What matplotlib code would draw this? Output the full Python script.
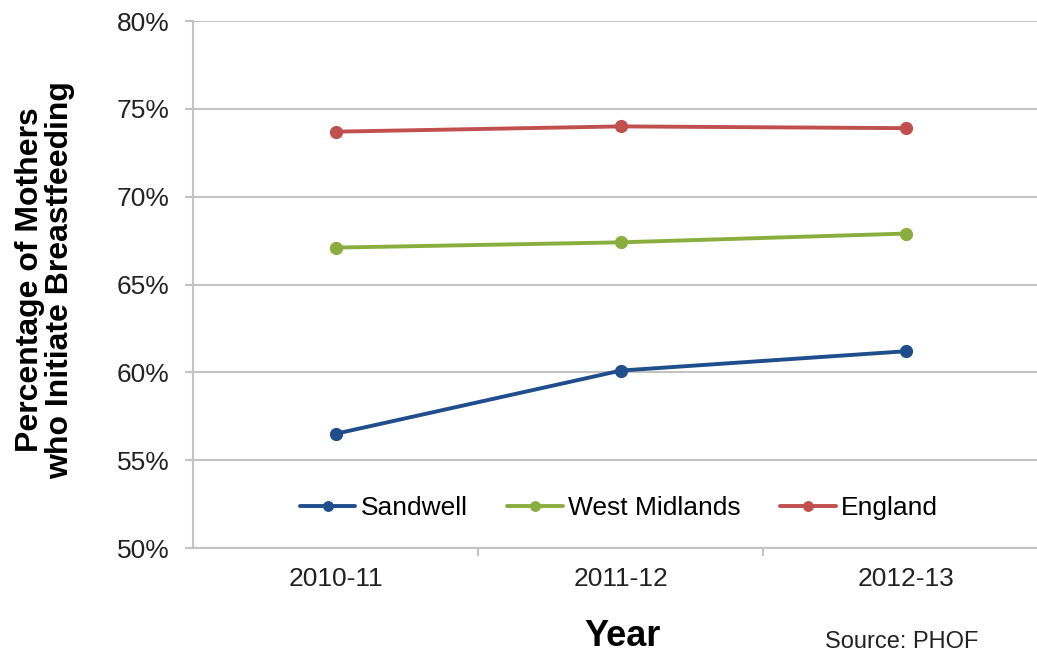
import matplotlib
matplotlib.use("Agg")
import matplotlib.pyplot as plt
from matplotlib.ticker import FuncFormatter, FixedLocator

years = ["2010-11", "2011-12", "2012-13"]
sandwell = [56.5, 60.1, 61.2]
west_midlands = [67.1, 67.4, 67.9]
england = [73.7, 74.0, 73.9]
y_ticks = [50, 55, 60, 65, 70, 75, 80]

plt.rcParams["font.family"] = ["Liberation Sans", "DejaVu Sans"]

W, H = 1037, 657
fig = plt.figure(figsize=(W / 100, H / 100), dpi=100)
ax = fig.add_axes([193 / W, 1 - 548 / H, (1037 - 193) / W, (548 - 21) / H])

x = list(range(len(years)))
series = [
    ("Sandwell", sandwell, "#1F4E8C"),
    ("West Midlands", west_midlands, "#8AAE3E"),
    ("England", england, "#C0504D"),
]
for name, vals, col in series:
    ax.plot(x, vals, color=col, lw=2.8, marker="o", ms=8.5, label=name,
            solid_capstyle="round")

ax.set_ylim(50, 80)
ax.set_xlim(-0.5, 2.46)
ax.yaxis.set_major_locator(FixedLocator(y_ticks))
ax.yaxis.set_major_formatter(FuncFormatter(lambda v, p: f"{v:.0f}%"))
ax.set_xticks(x)
ax.set_xticklabels(years)
ax.grid(axis="y", color="#C3C3C3", lw=1.5)
ax.set_axisbelow(True)

for s in ["top", "right"]:
    ax.spines[s].set_visible(False)
for s in ["left", "bottom"]:
    ax.spines[s].set_color("#C3C3C3")
    ax.spines[s].set_linewidth(1.5)

# category boundary ticks on the x axis
ax.set_xticks([0.5, 1.5], minor=True)
ax.tick_params(axis="x", which="minor", length=6, color="#C3C3C3", width=1.5)
ax.tick_params(axis="x", which="major", length=0, pad=14, labelsize=19, labelcolor="#222222")
ax.tick_params(axis="y", length=6, color="#C3C3C3", width=1.5, pad=11,
               labelsize=19, labelcolor="#222222")

fig.text(45 / W, 1 - 280 / H, "Percentage of Mothers\nwho Initiate Breastfeeding",
         rotation=90, ha="center", va="center", fontsize=23, fontweight="bold",
         linespacing=1.0)
fig.text(623 / W, 1 - 636 / H, "Year", ha="center", va="center",
         fontsize=26, fontweight="bold")
fig.text(902 / W, 1 - 642 / H, "Source: PHOF", ha="center", va="center",
         fontsize=17, color="#222222")

leg = ax.legend(loc="center", bbox_to_anchor=(619 / W, 1 - 508 / H),
                bbox_transform=fig.transFigure, ncol=3, frameon=False,
                fontsize=19, handlelength=2.1, handletextpad=0.2,
                columnspacing=1.5, markerscale=0.8)

fig.savefig("out.png", dpi=100, facecolor="white")
